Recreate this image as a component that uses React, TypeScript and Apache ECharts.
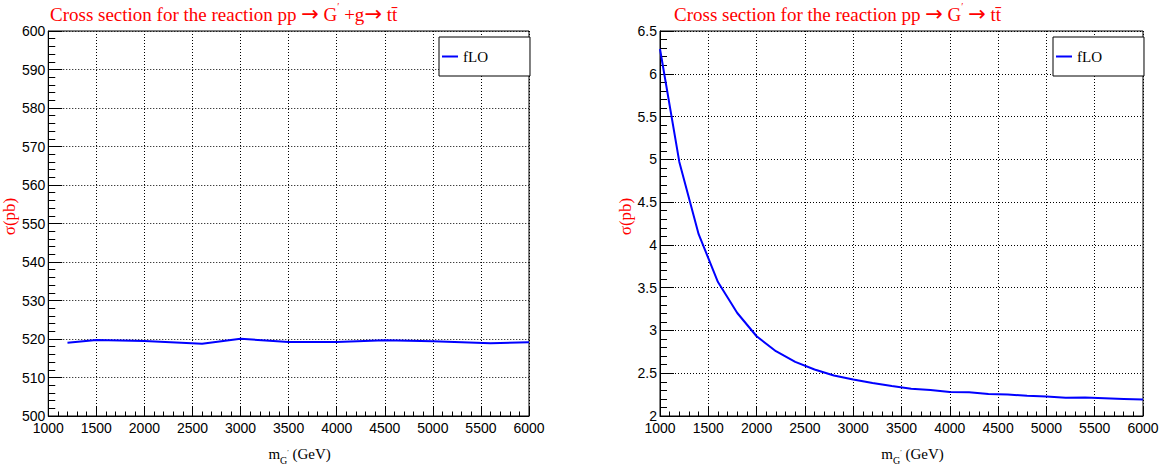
import React, { useEffect, useRef } from "react";
import * as echarts from "echarts";

// Left panel: pp -> G' + g -> t tbar
const massGg = [1200, 1500, 2000, 2600, 3000, 3500, 4000, 4500, 5000, 5600, 6000];
const sigmaGg = [519.05, 519.75, 519.5, 518.75, 520.05, 519.2, 519.2, 519.7, 519.4, 518.9, 519.15];

// Right panel: pp -> G' -> t tbar
const massG = [1000, 1200, 1400, 1600, 1800, 2000, 2200, 2400, 2600, 2800, 3000, 3200, 3400, 3600, 3800, 4000, 4200, 4400, 4600, 4800, 5000, 5200, 5400, 5600, 5800, 6000];
const sigmaG = [6.29, 4.97, 4.125, 3.566, 3.204, 2.932, 2.757, 2.633, 2.543, 2.474, 2.427, 2.385, 2.35, 2.319, 2.304, 2.28, 2.277, 2.258, 2.25, 2.238, 2.227, 2.212, 2.215, 2.208, 2.2, 2.192];

const titleLeft = "{a|Cross section for the reaction pp }{r|→}{a| G}{p|′}{a| +g}{r|→}{a| tt\u0304}";
const titleRight = "{a|Cross section for the reaction pp }{r|→}{a| G}{p|′}{a| }{r|→}{a| tt\u0304}";
const xName = "{m|m}{s|G}{q|′}{m| (GeV)}";
const yName = "σ(pb)";
const seriesName = "fLO";

const RED = "#ff0000";
const BLUE = "#0000ff";
const SERIF = "'Liberation Serif', 'Times New Roman', serif";
const SANS = "'Liberation Sans', Arial, sans-serif";

const titleRich = {
  a: { fontSize: 19, color: RED, fontFamily: SERIF, fontWeight: "normal" },
  r: { fontSize: 21, color: RED, fontFamily: "'DejaVu Sans', sans-serif", fontWeight: "normal" },
  p: { fontSize: 10, color: RED, fontFamily: SERIF, fontWeight: "normal", padding: [0, 0, 16, 0] },
};

const xNameRich = {
  m: { fontSize: 15, color: "#000", fontFamily: SERIF },
  s: { fontSize: 10, color: "#000", fontFamily: SERIF, padding: [12, 0, 0, 0] },
  q: { fontSize: 7, color: "#000", fontFamily: SERIF, padding: [0, 0, 4, 0] },
};

function xAxis(gridIndex: number) {
  return {
    gridIndex,
    type: "value",
    min: 1000,
    max: 6000,
    interval: 500,
    axisLine: { show: true, onZero: false, lineStyle: { color: "#000", width: 1 } },
    axisTick: { show: true, inside: true, length: 9, lineStyle: { color: "#000" } },
    minorTick: { show: true, splitNumber: 5, length: 4.5, lineStyle: { color: "#000" } },
    splitLine: { show: true, lineStyle: { color: "#000", type: [1, 2], width: 1 } },
    axisLabel: {
      color: "#000",
      fontSize: 14,
      fontFamily: SANS,
      margin: 5,
      showMinLabel: true,
      showMaxLabel: true,
      formatter: (v: number) => String(v),
    },
    name: xName,
    nameLocation: "middle",
    nameGap: 27,
    nameTextStyle: { rich: xNameRich, padding: [0, 0, 0, 22] },
  };
}

function yAxis(gridIndex: number, min: number, max: number, interval: number) {
  return {
    gridIndex,
    type: "value",
    min,
    max,
    interval,
    axisLine: { show: true, onZero: false, lineStyle: { color: "#000", width: 1 } },
    axisTick: { show: true, inside: true, length: 14, lineStyle: { color: "#000" } },
    minorTick: { show: true, splitNumber: 5, length: 7, lineStyle: { color: "#000" } },
    splitLine: { show: true, lineStyle: { color: "#000", type: [1, 2], width: 1 } },
    axisLabel: {
      color: "#000",
      fontSize: 14,
      fontFamily: SANS,
      margin: 3,
      showMinLabel: true,
      showMaxLabel: true,
      formatter: (v: number) => String(v),
    },
    name: yName,
    nameLocation: "middle",
    nameRotate: 90,
    nameGap: 25,
    nameTextStyle: { color: RED, fontSize: 17, fontFamily: SERIF, padding: [0, 0, 0, 14] },
  };
}

function legend(left: number) {
  return {
    data: [seriesName],
    left,
    top: 37,
    orient: "vertical",
    icon: "rect",
    itemWidth: 16,
    itemHeight: 2,
    padding: [12, 42, 12, 3],
    backgroundColor: "#fff",
    borderColor: "#000",
    borderWidth: 1,
    borderRadius: 0,
    selectedMode: false,
    textStyle: { color: "#000", fontSize: 15, fontFamily: SERIF },
    z: 10,
  };
}

const option = {
  animation: false,
  backgroundColor: "#fff",
  title: [
    { text: titleLeft, left: 50, top: 1, padding: 0, textStyle: { rich: titleRich, fontWeight: "normal" } },
    { text: titleRight, left: 674, top: 1, padding: 0, textStyle: { rich: titleRich, fontWeight: "normal" } },
  ],
  legend: [legend(439), legend(1053)],
  grid: [
    { left: 45, top: 31, width: 484, height: 385, show: true, borderColor: "#000", borderWidth: 1, backgroundColor: "transparent" },
    { left: 660, top: 31, width: 483, height: 385, show: true, borderColor: "#000", borderWidth: 1, backgroundColor: "transparent" },
  ],
  xAxis: [xAxis(0), xAxis(1)],
  yAxis: [yAxis(0, 500, 600, 10), yAxis(1, 2, 6.5, 0.5)],
  series: [
    {
      name: seriesName,
      type: "line",
      xAxisIndex: 0,
      yAxisIndex: 0,
      data: massGg.map((m, i) => [m, sigmaGg[i]]),
      showSymbol: false,
      lineStyle: { color: BLUE, width: 2 },
      itemStyle: { color: BLUE },
    },
    {
      name: seriesName,
      type: "line",
      xAxisIndex: 1,
      yAxisIndex: 1,
      data: massG.map((m, i) => [m, sigmaG[i]]),
      showSymbol: false,
      lineStyle: { color: BLUE, width: 2 },
      itemStyle: { color: BLUE },
    },
  ],
};

export default function App() {
  const ref = useRef<HTMLDivElement>(null);
  useEffect(() => {
    const chart = echarts.init(ref.current!, null, { renderer: "svg" });
    chart.setOption(option as any);
    return () => chart.dispose();
  }, []);
  return (
    <div
      ref={ref}
      style={{ position: "absolute", left: 0, top: 0, width: 1164, height: 471, background: "#fff" }}
    />
  );
}
